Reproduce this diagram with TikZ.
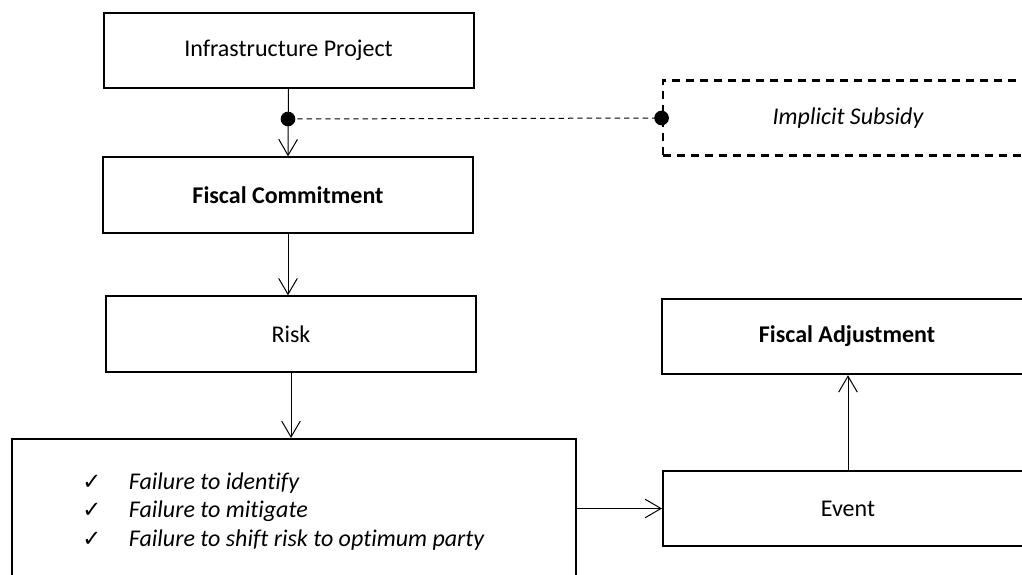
\documentclass[tikz,border=0pt]{standalone}
\usepackage{fontspec}
\setmainfont[Ligatures=NoCommon]{Carlito}
\newfontfamily\symfont{DejaVu Sans}
\usetikzlibrary{arrows.meta}
\begin{document}
\begin{tikzpicture}[x=0.75pt,y=-0.75pt,
  box/.style={draw,line width=1.5pt,rectangle,inner sep=0pt,
    minimum width=277.5pt,minimum height=56.5pt,font=\fontsize{18}{21.5}\selectfont},
  dashbox/.style={box,dash pattern=on 6pt off 4.5pt,line width=2.1pt},
  link/.style={line width=0.75pt,-{Straight Barb[length=12pt,width=14pt]}},
  dotline/.style={line width=0.75pt,dash pattern=on 4pt off 3pt},
  junction/.style={circle,fill=black,inner sep=0pt,minimum size=11pt}]
\useasboundingbox (0,0) rectangle (1022,575);
\clip (0,0) rectangle (1022,575);

% main chain of boxes
\node[box] (infra) at (288.5,50.5) {Infrastructure Project};
\node[box] (commit) at (288,195) {\bfseries Fiscal Commitment};
\node[box] (risk) at (291,334) {Risk};
\node[box,minimum width=423pt,minimum height=105pt] (fail) at (294,509) {};
\node[anchor=west,inner sep=0pt,font=\fontsize{18}{21.5}\selectfont,align=left] (list) at (82,512)
  {\begin{tabular}{@{}p{35pt}@{}l@{}}
   {\symfont\fontsize{17}{17}\selectfont ✓} & \itshape Failure to identify\\
   {\symfont\fontsize{17}{17}\selectfont ✓} & \itshape Failure to mitigate\\
   {\symfont\fontsize{17}{17}\selectfont ✓} & \itshape Failure to shift risk to optimum party
   \end{tabular}};

% right-hand column
\node[dashbox] (subsidy) at (848,118) {\itshape Implicit Subsidy};
\node[box] (adjust) at (847,336.5) {\bfseries Fiscal Adjustment};
\node[box] (event) at (848,508.5) {Event};

% connectors
\coordinate (tap) at (288,119);
\draw[link] (infra.south) -- (commit.north);
\draw[dotline] (tap) -- (subsidy.west);
\node[junction] (tapdot) at (tap) {};
\node[junction] (subdot) at (subsidy.west) {};
\draw[link] (commit.south) -- (commit.south |- risk.north);
\draw[link] (risk.south) -- (risk.south |- fail.north);
\draw[link] (fail.east |- event.west) -- (event.west);
\draw[link] (event.north) -- (event.north |- adjust.south);
\end{tikzpicture}
\end{document}
